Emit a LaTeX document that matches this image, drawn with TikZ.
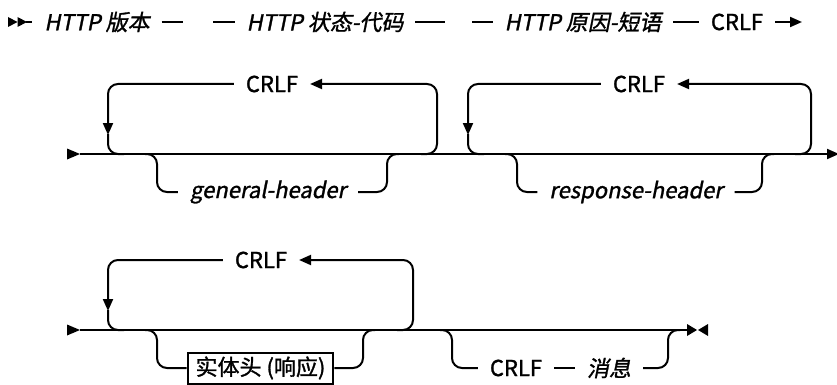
\documentclass[tikz,border=0pt]{standalone}
\usepackage{fontspec}
\setmainfont{Noto Sans CJK SC}[ItalicFont={Noto Sans CJK SC},
  UprightFeatures={FakeBold=1.3},ItalicFeatures={FakeSlant=0.2,FakeBold=1.3}]
\usetikzlibrary{arrows.meta}

\begin{document}
\begin{tikzpicture}[x=1pt,y=-1pt,line width=2pt,
  lbl/.style={inner xsep=11pt,inner ysep=0pt,font=\fontsize{22}{25}\selectfont},
  var/.style={lbl,font=\fontsize{22}{25}\selectfont\itshape},
  kwbox/.style={lbl,draw,inner xsep=8pt,minimum height=31pt},
  rail/.style={rounded corners=10pt},
  tip/.style={-{Triangle[length=12pt,width=10pt]}}]
\useasboundingbox (0,0) rectangle (837,385);

% row 1
\node[var] (ver) at (97,22) {HTTP 版本};
\node[var] (code) at (325,22) {HTTP 状态-代码};
\node[var] (reason) at (583,22) {HTTP 原因-短语};
\node[lbl] (crlf0) at (737,22) {CRLF};
\coordinate (s1) at (8,22);
\coordinate (w1) at (183,22);
\coordinate (w2) at (213,22);
\coordinate (w3) at (445,22);
\coordinate (w4) at (472,22);
\coordinate (e1) at (802,22);
\fill (s1) -- ++(0,-5) -- ++(9.5,5) -- ++(-9.5,5) -- cycle;
\fill ([xshift=9.5pt]s1) -- ++(0,-5) -- ++(9.5,5) -- ++(-9.5,5) -- cycle;
\draw ([xshift=18pt]s1) -- (ver.west);
\draw (ver.east) -- (w1);
\draw (w2) -- (code.west);
\draw (code.east) -- (w3);
\draw (w4) -- (reason.west);
\draw (reason.east) -- (crlf0.west);
\draw[tip] (crlf0.east) -- (e1);

% row 2
\node[lbl] (rep1) at (272,84) {CRLF};
\node[lbl] (rep2) at (639,84) {CRLF};
\node[var] (gen) at (268,192) {general-header};
\node[var] (resp) at (636,192) {response-header};
\coordinate (s2) at (67,154);
\coordinate (e2) at (839,154);
\coordinate (p1) at (108,154);
\coordinate (q1) at (437,154);
\coordinate (p2) at (468,154);
\coordinate (q2) at (811,154);
\coordinate (b1) at (157,154);
\coordinate (c1) at (387,154);
\coordinate (b2) at (517,154);
\coordinate (c2) at (762,154);
\fill (s2) -- ++(0,-5.5) -- ++(13,5.5) -- ++(-13,5.5) -- cycle;
\draw[tip] ([xshift=13pt]s2) -- (e2);
\foreach \p/\q/\r in {p1/q1/rep1,p2/q2/rep2}{
  \draw[rail,tip] (\r.west) -| ([yshift=19pt]\p);
  \draw[rail] ([yshift=20pt]\p) -- (\p) -- ([xshift=16pt]\p);
  \draw[rail,tip] ([xshift=-16pt]\q) -- (\q) |- (\r.east);
}
\draw[rail] ([xshift=-12pt]b1) -- (b1) |- (gen.west);
\draw[rail] (gen.east) -| (c1) -- ([xshift=12pt]c1);
\draw[rail] ([xshift=-12pt]b2) -- (b2) |- (resp.west);
\draw[rail] (resp.east) -| (c2) -- ([xshift=12pt]c2);

% row 3
\node[lbl] (rep3) at (261,260) {CRLF};
\node[kwbox] (ent) at (260.5,368) {实体头 (响应)};
\node[lbl] (crlf4) at (516,368) {CRLF};
\node[var] (msg) at (609,368) {消息};
\coordinate (s3) at (67,330);
\coordinate (e3) at (687,330);
\coordinate (p3) at (108,330);
\coordinate (q3) at (413,330);
\coordinate (b3) at (157,330);
\coordinate (c3) at (363,330);
\coordinate (b4) at (452,330);
\coordinate (c4) at (668,330);
\fill (s3) -- ++(0,-5.5) -- ++(13,5.5) -- ++(-13,5.5) -- cycle;
\draw ([xshift=13pt]s3) -- (e3);
\fill (e3) -- ++(0,-6) -- ++(10,6) -- ++(-10,6) -- cycle;
\fill ([xshift=21pt]e3) -- ++(0,-6) -- ++(-10,6) -- ++(10,6) -- cycle;
\draw[rail,tip] (rep3.west) -| ([yshift=19pt]p3);
\draw[rail] ([yshift=20pt]p3) -- (p3) -- ([xshift=16pt]p3);
\draw[rail,tip] ([xshift=-16pt]q3) -- (q3) |- (rep3.east);
\draw[rail] ([xshift=-12pt]b3) -- (b3) |- (ent.west);
\draw[rail] (ent.east) -| (c3) -- ([xshift=12pt]c3);
\draw[rail] ([xshift=-12pt]b4) -- (b4) |- (crlf4.west);
\draw (crlf4.east) -- (msg.west);
\draw[rail] (msg.east) -| (c4) -- ([xshift=12pt]c4);
\end{tikzpicture}
\end{document}
